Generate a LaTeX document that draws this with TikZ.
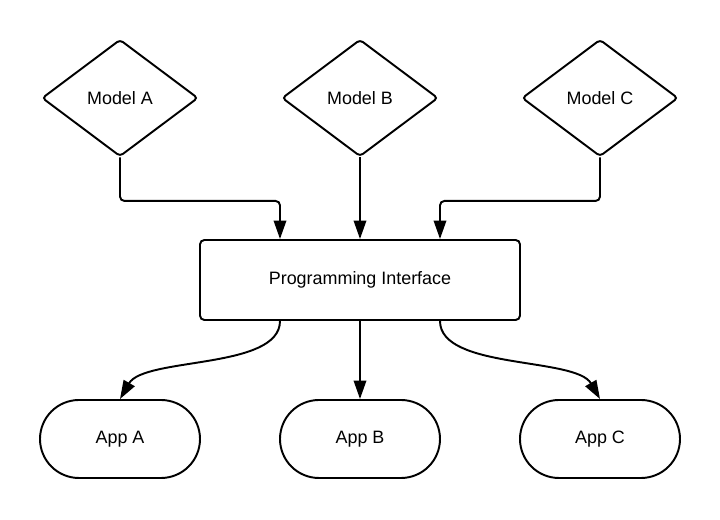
\documentclass[tikz,border=0pt]{standalone}
\usepackage{fontspec}
\setmainfont{Liberation Sans}
\usetikzlibrary{arrows.meta,positioning,shapes.geometric,shapes.misc}

\begin{document}
\begin{tikzpicture}[
 line width=1.1pt,
 every node/.style={font=\fontsize{10.2}{12}\selectfont},
 model/.style={draw,diamond,inner sep=0pt,minimum width=3.12cm,minimum height=2.34cm,rounded corners=2pt},
 iface/.style={draw,rectangle,inner sep=0pt,minimum width=6.4cm,minimum height=1.6cm,rounded corners=2.5pt},
 app/.style={draw,rounded rectangle,inner sep=0pt,minimum width=3.2cm,minimum height=1.56cm},
 arr/.style={-{Triangle[length=3.7mm,width=2.5mm]},rounded corners=2.5pt}]
 \useasboundingbox (0,0) rectangle (14.4,10.4);
 % models
 \node[model] (mA) at (2.4,8.44) {Model A};
 \node[model] (mB) at (7.2,8.44) {Model B};
 \node[model] (mC) at (12.0,8.44) {Model C};
 % interface
 \node[iface] (api) at (7.2,4.8) {Programming Interface};
 % apps
 \node[app] (appA) at (2.4,1.62) {App A};
 \node[app] (appB) at (7.2,1.62) {App B};
 \node[app] (appC) at (12.0,1.62) {App C};
 % models to interface
 \draw[arr] (mA.south) -- ++(0,-0.87) -| ([xshift=-1.6cm]api.north);
 \draw[arr] (mB.south) -- (api.north);
 \draw[arr] (mC.south) -- ++(0,-0.87) -| ([xshift=1.6cm]api.north);
 % interface to apps
 \draw[arr] ([xshift=-1.6cm]api.south) to[out=-90,in=60,looseness=0.7] (appA.north);
 \draw[arr] (api.south) -- (appB.north);
 \draw[arr] ([xshift=1.6cm]api.south) to[out=-90,in=120,looseness=0.7] (appC.north);
\end{tikzpicture}
\end{document}
